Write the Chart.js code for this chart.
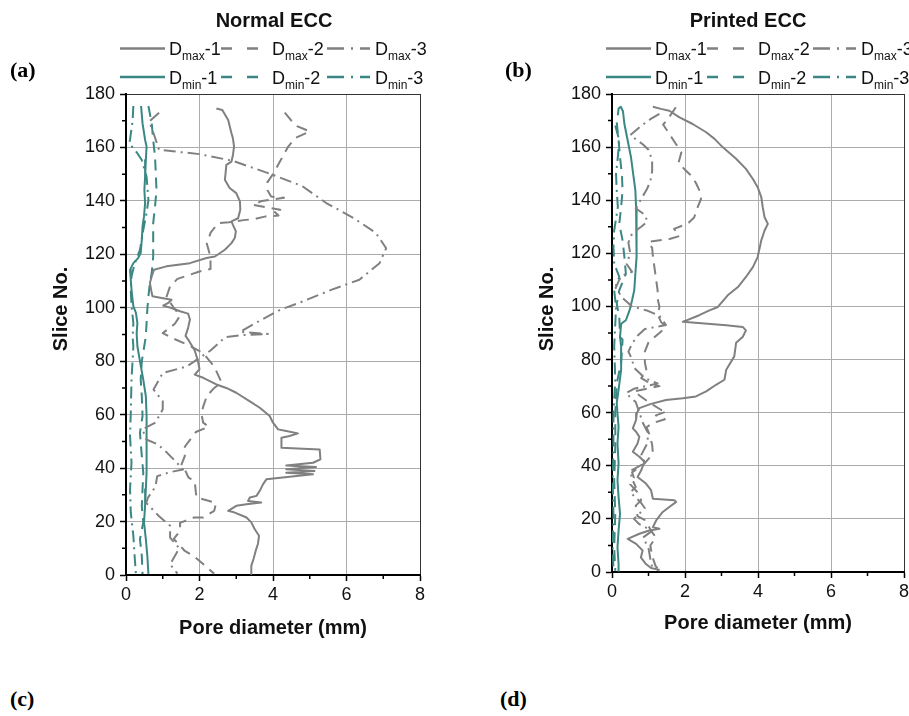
<!DOCTYPE html>
<html lang="en">
<head>
  <meta charset="UTF-8" />
  <title>Pore diameter along slices - Normal / Printed ECC</title>
  <script src="https://cdn.jsdelivr.net/npm/chart.js"></script>
  <style>
    body {
      margin: 0;
      width: 909px;
      height: 716px;
      overflow: hidden;
      position: relative;
      background: #ffffff;
    }

    canvas {
      position: absolute;
      top: 0;
    }

    #chartA { left: 0; }
    #chartB { left: 455px; }

    .tag {
      position: absolute;
      font-family: 'Liberation Serif', 'Times New Roman', serif;
      font-weight: bold;
      font-size: 22px;
      line-height: 1;
      color: #000;
    }
  </style>
</head>
<body>

<canvas id="chartA" width="455" height="644"></canvas>
<canvas id="chartB" width="470" height="639"></canvas>

<div class="tag" style="left:10px; top:59px;">(a)</div>
<div class="tag" style="left:505px; top:59px;">(b)</div>
<div class="tag" style="left:10px; top:688px;">(c)</div>
<div class="tag" style="left:500px; top:688px;">(d)</div>

<script>
  const FONT = "'Liberation Sans', Arial, sans-serif";
  const GREY = '#808080';
  const TEAL = '#3b8783';

  // tick values
  const xTicks = [0, 2, 4, 6, 8];
  const xMinor = [1, 3, 5, 7];
  const yTicks = [0, 20, 40, 60, 80, 100, 120, 140, 160, 180];
  const yMinor = [10, 30, 50, 70, 90, 110, 130, 150, 170];

  const seriesNames = ['Dmax-1', 'Dmax-2', 'Dmax-3', 'Dmin-1', 'Dmin-2', 'Dmin-3'];

  // ---- Normal ECC: [pore diameter (mm), slice no.] ----
  const normalDmax1 = [
    [2.46,174.6],[2.62,174],[2.78,170.3],[2.87,165.3],[2.91,163.4],[2.94,160.3],[2.91,157.2],[2.87,154.7],
    [2.73,153.5],[2.71,150.4],[2.69,147.9],[2.82,144.8],[3.0,142.9],[3.1,139.8],[3.11,136.7],[3.05,133.5],
    [2.87,132.3],[2.91,131],[2.99,128.6],[2.96,126.1],[2.87,124.2],[2.69,121.7],[2.42,119.2],[2.19,118.6],
    [1.74,116.7],[1.1,115.5],[0.76,114.2],[0.7,111.8],[0.65,109.3],[0.7,105.5],[0.72,104.3],[0.97,103.7],
    [1.24,103],[1.15,101.8],[1.01,100.8],[1.24,99.9],[1.47,98.7],[1.69,97.8],[1.74,95.6],[1.69,92.5],
    [1.62,89.5],[1.72,87.5],[1.87,84],[1.96,80],[2.0,77],[1.87,75],[2.1,73.8],[2.46,71.3],[2.73,70],
    [3.0,68.2],[3.37,65],[3.64,62.6],[3.91,59.5],[4.0,57],[4.14,54.5],[4.36,53.9],[4.68,53],[4.45,52],
    [4.23,51.4],[4.23,47.6],[5.27,47],[5.29,43.3],[5.09,42],[4.36,41],[5.17,40.4],[4.36,39.6],[5.13,38.9],
    [4.36,38.3],[5.09,37.7],[3.82,35.8],[3.73,34],[3.64,31.5],[3.55,29.6],[3.37,29],[3.32,27.7],[3.68,27.1],
    [3.28,26.5],[3.0,25.9],[2.78,24],[2.91,23.6],[3.28,21.5],[3.41,19.7],[3.5,17.2],[3.62,14.7],[3.59,11.6],
    [3.53,9.1],[3.47,6],[3.41,3.5],[3.41,0.4]
  ];
  const normalDmax2 = [
    [4.32,173],[4.5,170],[4.65,168],[5.0,166],[4.6,163.5],[4.4,160],[4.2,155],[4.0,150],[3.85,147],
    [3.85,144],[3.95,141.6],[4.3,141.2],[3.7,140],[3.45,138.5],[4.2,136.7],[4.0,136.5],[4.15,134.5],
    [3.8,134.2],[3.5,133.2],[3.2,132.8],[2.8,132],[2.5,131.7],[2.3,128],[2.2,124],[2.3,119],[2.3,114.5],
    [2.0,113.6],[1.7,112.2],[1.4,110.8],[1.2,108],[1.1,104],[1.3,100],[1.47,97],[1.33,94],[1.0,90.5],
    [1.25,88.7],[1.7,86],[2.1,83],[2.4,78],[2.6,72],[2.4,70],[2.2,67],[2.1,63],[2.05,60.5],[2.1,57],
    [2.25,55.5],[1.9,53.5],[1.6,48],[1.6,44.5],[1.5,41],[1.6,39.5],[1.7,36.5],[1.87,35],[1.9,31],
    [1.92,29],[2.45,27],[2.4,24],[2.1,21.5],[1.85,21.5],[1.47,19.5],[1.47,16.5],[1.3,13.5],[1.6,9],
    [1.85,7],[2.05,4.7],[2.4,0.5]
  ];
  const normalDmax3 = [
    [0.9,173],[0.63,169.7],[0.75,165.3],[0.9,159.1],[2.0,157.5],[2.9,155],[3.95,150],[4.8,145.5],
    [5.45,139.2],[6.2,133.5],[6.8,128],[7.08,122.3],[6.9,116.7],[6.35,110.5],[5.6,106.8],[4.7,101.8],
    [4.2,99.3],[3.7,95.6],[3.1,91],[3.86,90.2],[3.2,89.8],[2.7,89],[2.3,84],[1.65,78],[1.0,75.6],
    [0.75,69.4],[1.0,65],[1.0,62],[0.8,57],[0.45,54.5],[0.55,50.7],[0.85,49],[1.1,46],[1.35,42.5],
    [1.55,39.5],[1.2,38.5],[0.85,37],[0.8,33],[0.6,29],[0.55,27],[0.9,22],[1.2,18.4],[1.2,14],
    [1.45,10],[1.2,4],[1.4,0.5]
  ];
  const normalDmin1 = [
    [0.41,175.5],[0.45,169],[0.52,162.8],[0.56,160.3],[0.54,155.3],[0.52,149.1],[0.5,144.1],[0.52,139.2],
    [0.49,134.2],[0.45,130.4],[0.43,125.5],[0.4,120.5],[0.33,118.6],[0.2,116.7],[0.11,114.2],[0.13,110.5],
    [0.15,106.8],[0.18,103],[0.2,100.6],[0.27,98.1],[0.31,94.3],[0.29,90.5],[0.31,85.6],[0.38,80],
    [0.47,73.1],[0.54,66.9],[0.56,59.5],[0.56,52],[0.56,44.5],[0.56,38.3],[0.54,32.1],[0.52,25.9],
    [0.49,19.7],[0.54,13.4],[0.58,7.2],[0.61,0.4]
  ];
  const normalDmin2 = [
    [0.61,175.5],[0.7,169],[0.74,162.8],[0.79,156.6],[0.81,150.4],[0.83,144.1],[0.79,137.9],[0.74,131.7],
    [0.74,125.5],[0.74,119.2],[0.7,113],[0.65,109.3],[0.61,104.3],[0.58,99.3],[0.56,94.3],[0.54,89.3],
    [0.43,80],[0.4,73.1],[0.43,66.9],[0.45,59.5],[0.38,53.2],[0.43,44.5],[0.47,38.3],[0.45,32.1],
    [0.43,25.9],[0.47,19.7],[0.38,13.4],[0.43,7.2],[0.45,0.4]
  ];
  const normalDmin3 = [
    [0.2,175.5],[0.18,170],[0.11,163],[0.09,161.5],[0.3,158],[0.43,155.3],[0.56,149],[0.61,140.4],
    [0.56,135.4],[0.47,129.2],[0.38,121.7],[0.24,116.7],[0.15,111.8],[0.13,106.8],[0.15,100.6],[0.2,94.3],
    [0.18,89.3],[0.2,85.6],[0.15,73.1],[0.13,60.7],[0.11,52],[0.15,42],[0.11,32.1],[0.13,23.4],
    [0.2,14.7],[0.24,6],[0.27,0.4]
  ];

  // ---- Printed ECC ----
  const printedDmax1 = [
    [1.12,175.2],[1.34,174.4],[1.57,173.7],[1.85,171.2],[2.21,168.7],[2.58,165.6],[2.81,163.1],[3.03,160],
    [3.4,155.6],[3.67,151.8],[3.86,148],[3.99,144.9],[4.09,141.2],[4.13,137.4],[4.18,133.6],[4.27,131.1],
    [4.18,128.6],[4.09,124.9],[4.04,121.7],[3.99,118.6],[3.86,114.8],[3.67,111.1],[3.45,107.3],[3.17,104.2],
    [2.9,99.8],[2.67,98.5],[2.39,96.7],[1.94,94.2],[3.13,92.9],[3.58,92.3],[3.67,91],[3.58,88.5],
    [3.4,86.3],[3.35,81.2],[3.13,76.2],[3.08,72.4],[2.85,70.5],[2.58,68],[2.3,66.1],[1.94,65.4],
    [1.48,64.8],[1.07,63.3],[0.75,61.7],[0.68,59.8],[0.66,57.3],[0.57,54.1],[0.66,52.8],[0.75,50.9],
    [0.7,48.4],[0.57,45.3],[0.75,43.4],[0.89,41.5],[0.8,38.3],[0.7,35.8],[0.93,33.3],[1.07,30.8],
    [1.12,27.6],[1.71,27],[1.76,26.4],[1.57,24.5],[1.39,22.6],[1.21,19.4],[1.12,16.9],[1.3,16.3],
    [1.02,15.6],[0.75,14.4],[0.43,12.5],[0.66,10.6],[0.84,8.1],[0.79,5.5],[0.93,3],[1.07,1.5],[1.3,0.8]
  ];
  const printedDmax2 = [
    [1.75,175],[1.5,170],[1.4,168.5],[1.57,165],[1.76,161],[1.9,158],[1.82,154],[2.0,151.5],[2.15,149.5],
    [2.3,146.5],[2.4,143.5],[2.44,140.5],[2.35,137.5],[2.25,133.5],[2.1,131.5],[1.94,130.5],[1.7,129.2],
    [1.85,126.5],[1.6,125.5],[1.0,124.3],[1.1,122],[1.12,119],[1.16,115],[1.2,111],[1.25,106],[1.25,103],
    [1.3,99.8],[1.25,97],[1.35,94],[1.48,92.3],[1.3,90],[1.0,86.5],[0.9,83],[0.9,79],[0.95,75.5],
    [0.8,73],[1.05,71],[1.3,70],[0.6,68],[0.8,66],[1.0,64],[1.35,61],[1.5,60.5],[1.2,59],[1.45,57.5],
    [1.1,56],[0.95,54.5],[1.02,52],[1.1,48],[1.12,44.5],[0.9,41],[0.55,37.5],[0.6,35.5],[0.5,33],
    [0.7,30],[0.8,27],[0.65,25],[0.7,21],[0.9,19.5],[1.1,15],[1.2,13],[1.05,10],[1.1,6],[1.2,2],[1.35,0.8]
  ];
  const printedDmax3 = [
    [1.3,172.5],[1.05,170.5],[0.8,168],[0.5,164.5],[0.85,161],[1.0,159],[1.1,155],[1.1,151],[1.05,147],
    [0.95,144],[0.78,140],[0.65,137],[0.9,134.5],[0.97,132],[0.8,130],[0.55,127.5],[0.45,124],[0.5,120],
    [0.4,116],[0.55,113],[0.25,111.5],[0.1,107],[0.3,103],[0.55,100],[0.95,98.5],[1.3,96.5],[1.48,93],
    [0.9,91.5],[0.7,89],[0.55,86],[0.45,83],[0.55,80],[0.6,77],[0.9,73],[1.25,71],[0.6,69],[0.38,67.3],
    [0.65,64],[0.75,60],[0.85,56],[1.0,52],[0.95,48],[0.8,44],[0.9,41],[0.5,38],[0.55,35],[0.65,32],
    [0.5,30],[0.8,26],[0.9,24],[0.6,20],[0.75,18],[1.1,15.5],[0.85,13],[1.0,9],[1.05,5],[1.1,2],[1.3,0.5]
  ];
  const printedDmin1 = [
    [0.16,172],[0.18,174.5],[0.24,175.2],[0.3,173.5],[0.34,168.7],[0.43,162.5],[0.52,156.2],[0.58,149.9],
    [0.64,143.7],[0.66,137.4],[0.68,131.1],[0.68,124.9],[0.66,118.6],[0.64,112.3],[0.61,106.1],[0.55,102.3],
    [0.48,98.5],[0.38,94.8],[0.25,93.5],[0.22,88.5],[0.25,85],[0.25,76.2],[0.18,68.6],[0.13,63.6],
    [0.15,59.8],[0.18,54.7],[0.15,48.4],[0.18,40.9],[0.15,34.6],[0.18,28.2],[0.22,21.9],[0.18,15.6],
    [0.15,9.3],[0.18,3],[0.18,0.5]
  ];
  const printedDmin2 = [
    [0.13,169.3],[0.18,162.5],[0.22,156.2],[0.27,149.9],[0.29,143.7],[0.25,137.4],[0.2,131.1],[0.29,124.9],
    [0.34,118.6],[0.38,112.3],[0.2,106.1],[0.13,101],[0.2,96],[0.22,88.5],[0.29,87.5],[0.25,78.7],
    [0.13,71.1],[0.09,59.8],[0.09,47.2],[0.06,34.6],[0.09,21.9],[0.06,9.3],[0.09,0.5]
  ];
  const printedDmin3 = [
    [0.09,168.1],[0.2,162.5],[0.16,156.2],[0.11,149.9],[0.13,143.7],[0.16,137.4],[0.06,128.6],[0.04,122.4],
    [0.06,116.1],[0.2,111.1],[0.06,106.1],[0.11,99.8],[0.09,93.5],[0.06,85],[0.09,72.4],[0.04,59.8],
    [0.04,47.2],[0.02,34.6],[0.04,21.9],[0.02,9.3],[0.04,0.5]
  ];

  Chart.defaults.font.family = FONT;
  Chart.defaults.color = '#111';

  const DASH = [11, 7];
  const DASH_DOT = [12, 5, 2, 5];
  const styles = [
    { color: GREY, dash: [] },
    { color: GREY, dash: DASH },
    { color: GREY, dash: DASH_DOT },
    { color: TEAL, dash: [] },
    { color: TEAL, dash: DASH },
    { color: TEAL, dash: DASH_DOT }
  ];

  function toPoints(arr) {
    return arr.map(([x, y]) => ({ x, y }));
  }

  function makeDatasets(list) {
    return list.map((arr, i) => ({
      label: seriesNames[i],
      data: toPoints(arr),
      showLine: true,
      borderColor: styles[i].color,
      borderDash: styles[i].dash,
      borderWidth: 2,
      borderJoinStyle: 'round',
      pointRadius: 0,
      tension: 0
    }));
  }

  function gridColor(value, lo, hi) {
    if (value === lo) return 'rgba(0,0,0,0)';
    if (value === hi) return '#333';
    return '#ababab';
  }

  // minor ticks, panel title, rotated y title and the two-row legend with subscripts
  const panelDecor = {
    id: 'panelDecor',
    afterDraw(chart, args, opts) {
      const ctx = chart.ctx;
      const area = chart.chartArea;
      const xs = chart.scales.x;
      const ys = chart.scales.y;
      ctx.save();

      ctx.strokeStyle = '#000';
      ctx.lineWidth = 1.5;
      ctx.beginPath();
      xMinor.forEach(v => {
        const px = xs.getPixelForValue(v);
        ctx.moveTo(px, area.bottom);
        ctx.lineTo(px, area.bottom + 4);
      });
      yMinor.forEach(v => {
        const py = ys.getPixelForValue(v);
        ctx.moveTo(area.left, py);
        ctx.lineTo(area.left - 4, py);
      });
      ctx.stroke();

      ctx.fillStyle = '#111';
      ctx.font = 'bold 20px ' + FONT;
      ctx.textAlign = 'center';
      ctx.textBaseline = 'middle';
      ctx.fillText(opts.title, (area.left + area.right) / 2 + opts.titleShift, 21);

      ctx.save();
      ctx.translate(area.left - 65, 309);
      ctx.rotate(-Math.PI / 2);
      ctx.fillText('Slice No.', 0, 0);
      ctx.restore();

      const cols = [[-6, 39, 43], [95, 134, 146], [201, 244, 249]];
      chart.data.datasets.forEach((ds, i) => {
        const row = Math.floor(i / 3);
        const [s0, s1, t0] = cols[i % 3];
        const yy = row === 0 ? 48.5 : 77;
        const dash = ds.borderDash.length === 2 ? [11, 15] : ds.borderDash.length === 4 ? [17, 7, 2, 7] : [];
        ctx.strokeStyle = ds.borderColor;
        ctx.lineWidth = 2.5;
        ctx.setLineDash(dash);
        ctx.beginPath();
        ctx.moveTo(area.left + s0, yy);
        ctx.lineTo(area.left + s1, yy);
        ctx.stroke();
        ctx.setLineDash([]);

        const m = ds.label.match(/^D(\w+)(-\d)$/);
        let tx = area.left + t0;
        ctx.fillStyle = '#111';
        ctx.textAlign = 'left';
        ctx.textBaseline = 'alphabetic';
        ctx.font = '18px ' + FONT;
        ctx.fillText('D', tx, yy + 6.5);
        tx += ctx.measureText('D').width;
        ctx.font = '12px ' + FONT;
        ctx.fillText(m[1], tx, yy + 11.5);
        tx += ctx.measureText(m[1]).width;
        ctx.font = '18px ' + FONT;
        ctx.fillText(m[2], tx, yy + 6.5);
      });

      ctx.restore();
    }
  };

  function makeChart(canvasId, seriesList, title, titleShift, yWidth, xHeight, padRight) {
    return new Chart(document.getElementById(canvasId), {
      type: 'scatter',
      data: { datasets: makeDatasets(seriesList) },
      options: {
        responsive: false,
        animation: false,
        layout: { padding: { top: 94, left: 0, right: padRight, bottom: 0 } },
        scales: {
          x: {
            type: 'linear',
            min: 0,
            max: 8,
            afterFit(scale) { scale.height = xHeight; },
            afterBuildTicks(scale) { scale.ticks = xTicks.map(v => ({ value: v })); },
            ticks: { color: '#111', font: { size: 18 }, padding: 3, maxRotation: 0 },
            grid: {
              color: c => gridColor(c.tick && c.tick.value, 0, 8),
              lineWidth: 1,
              tickLength: 6,
              tickColor: '#000',
              tickWidth: 1.5
            },
            border: { display: true, color: '#000', width: 2 },
            title: {
              display: true,
              text: 'Pore diameter (mm)',
              color: '#111',
              font: { size: 20, weight: 'bold' },
              padding: { top: 4, bottom: 4 }
            }
          },
          y: {
            type: 'linear',
            min: 0,
            max: 180,
            afterFit(scale) { scale.width = yWidth; },
            afterBuildTicks(scale) { scale.ticks = yTicks.map(v => ({ value: v })); },
            ticks: { color: '#111', font: { size: 18 }, padding: 5 },
            grid: {
              color: c => gridColor(c.tick && c.tick.value, 0, 180),
              lineWidth: 1,
              tickLength: 6,
              tickColor: '#000',
              tickWidth: 1.5
            },
            border: { display: true, color: '#000', width: 2 }
          }
        },
        plugins: {
          legend: { display: false },
          tooltip: { enabled: false },
          panelDecor: { title: title, titleShift: titleShift }
        }
      },
      plugins: [panelDecor]
    });
  }

  makeChart('chartA',
    [normalDmax1, normalDmax2, normalDmax3, normalDmin1, normalDmin2, normalDmin3],
    'Normal ECC', 1, 126, 69, 35);

  makeChart('chartB',
    [printedDmax1, printedDmax2, printedDmax3, printedDmin1, printedDmin2, printedDmin3],
    'Printed ECC', -10, 157, 67, 21);
</script>

</body>
</html>
